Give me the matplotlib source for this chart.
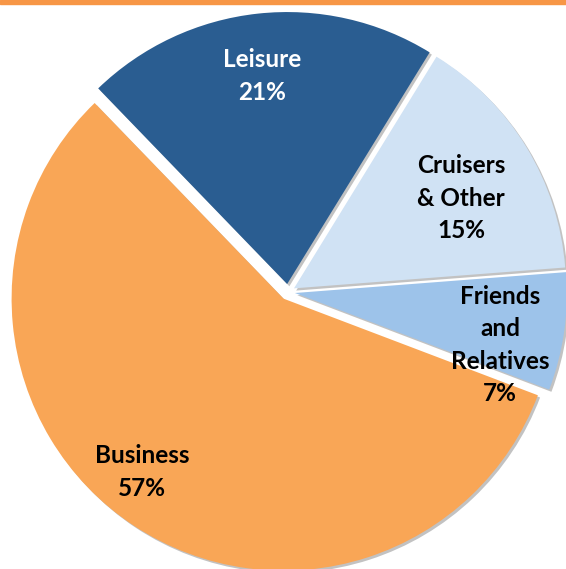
import matplotlib
matplotlib.use("Agg")
import matplotlib.pyplot as plt
from matplotlib.patches import Rectangle

categories = ["Business", "Friends\nand\nRelatives", "Cruisers\n& Other", "Leisure"]
shares = [57, 7, 15, 21]
colors = ["#F9A656", "#9DC3EA", "#D0E2F4", "#2A5D91"]
text_colors = ["black", "black", "black", "white"]
label_pos = [(142, 569 - 472), (500, 569 - 345), (461, 569 - 198), (262, 569 - 76)]

W, H = 566, 569
fig = plt.figure(figsize=(W / 100, H / 100), dpi=100)
ax = fig.add_axes([0, 0, 1, 1])

wedges, _ = ax.pie(
    shares,
    colors=colors,
    startangle=134,
    counterclock=True,
    radius=272,
    center=(288, H - 292),
    explode=[8, 7, 7, 8],
    wedgeprops=dict(linewidth=0),
    shadow=dict(ox=1.6, oy=-1.6, facecolor="#9a9a9a", alpha=0.6),
    frame=True,
)

for cat, s, (x, y), tc in zip(categories, shares, label_pos, text_colors):
    ax.text(x, y, f"{cat}\n{s}%", ha="center", va="center", color=tc,
            fontsize=17.5, fontweight="bold", family=["Lato", "DejaVu Sans"],
            linespacing=1.48)

ax.add_patch(Rectangle((0, H - 4), W, 4, color="#F79646", zorder=10))

ax.set_xlim(0, W)
ax.set_ylim(0, H)
ax.set_aspect("auto")
ax.axis("off")

fig.savefig("out.png", dpi=100)
